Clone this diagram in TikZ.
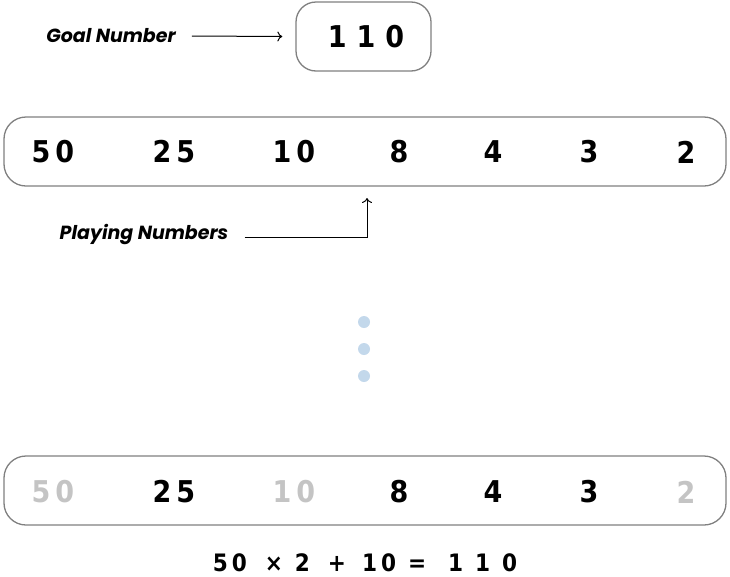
\documentclass[tikz,border=0pt]{standalone}
\usepackage{fontspec}
\usetikzlibrary{positioning, arrows.meta}
\newfontfamily\digitfont{DejaVu Sans Condensed}
\newfontfamily\labelfont{Poppins}
\definecolor{boxgray}{HTML}{808080}
\definecolor{dimgray}{HTML}{C4C4C4}
\definecolor{dotblue}{HTML}{C3D8EB}
\tikzstyle{rowbox} = [draw=boxgray, line width=1.3pt, rounded corners=22pt, minimum width=722pt, minimum height=69pt]
\tikzstyle{goalbox} = [draw=boxgray, line width=1.3pt, rounded corners=20pt, minimum width=135pt, minimum height=69pt]
\tikzstyle{num} = [inner sep=0, font=\digitfont\bfseries\fontsize{30}{30}\selectfont]
\tikzstyle{eqn} = [inner sep=0, font=\digitfont\bfseries\fontsize{24}{24}\selectfont]
\tikzstyle{tag} = [inner sep=0, font=\labelfont\bfseries\itshape\fontsize{19}{19}\selectfont]
\tikzstyle{arrow} = [line width=1pt,-{To[length=5pt,width=10pt]}]
\tikzstyle{dot} = [circle, fill=dotblue, minimum size=12pt, inner sep=0]

\begin{document}
\begin{tikzpicture}[x=1pt,y=-1pt]
\useasboundingbox (0,0) rectangle (730,576);
% goal number
\node[goalbox] (goal) at (363.5,36.5) {};
\node[num] (goalnum) at (366,37) {1\hspace{10pt}1\hspace{10pt}0};
\node[tag] (goaltag) at (111,36) {Goal Number};
\draw[arrow] ([xshift=16pt]goaltag.east) -- ([xshift=-13pt]goal.west);
% playing numbers
\node[rowbox] (row) at (365,151.5) {};
\foreach \x/\n [count=\i] in {53/5\,0, 174/2\,5, 294/1\,0, 399/8, 493/4, 589/3, 686/2}
  \node[num] (top\i) at (\x,152) {\n};
\node[tag] (playtag) at (144,234) {Playing Numbers};
\coordinate (tip) at (367,198);
\draw[arrow] ([xshift=16pt,yshift=-3pt]playtag.east) -| (tip);
% dots
\foreach \y [count=\i] in {322,349,376}
  \node[dot] (dot\i) at (364,\y) {};
% result
\node[rowbox] (res) at (365,490.5) {};
\foreach \x/\n/\c [count=\i] in {53/5\,0/dimgray, 174/2\,5/black, 294/1\,0/dimgray, 399/8/black, 493/4/black, 589/3/black, 686/2/dimgray}
  \node[num, text=\c] (bot\i) at (\x,492) {\n};
\node[eqn] (sum) at (365,563) {5\,0\hspace{18pt}×\hspace{12pt}2\hspace{18pt}+\hspace{16pt}1\,0\hspace{12pt}=\hspace{22pt}1\hspace{12pt}1\hspace{12pt}0};
\end{tikzpicture}
\end{document}
